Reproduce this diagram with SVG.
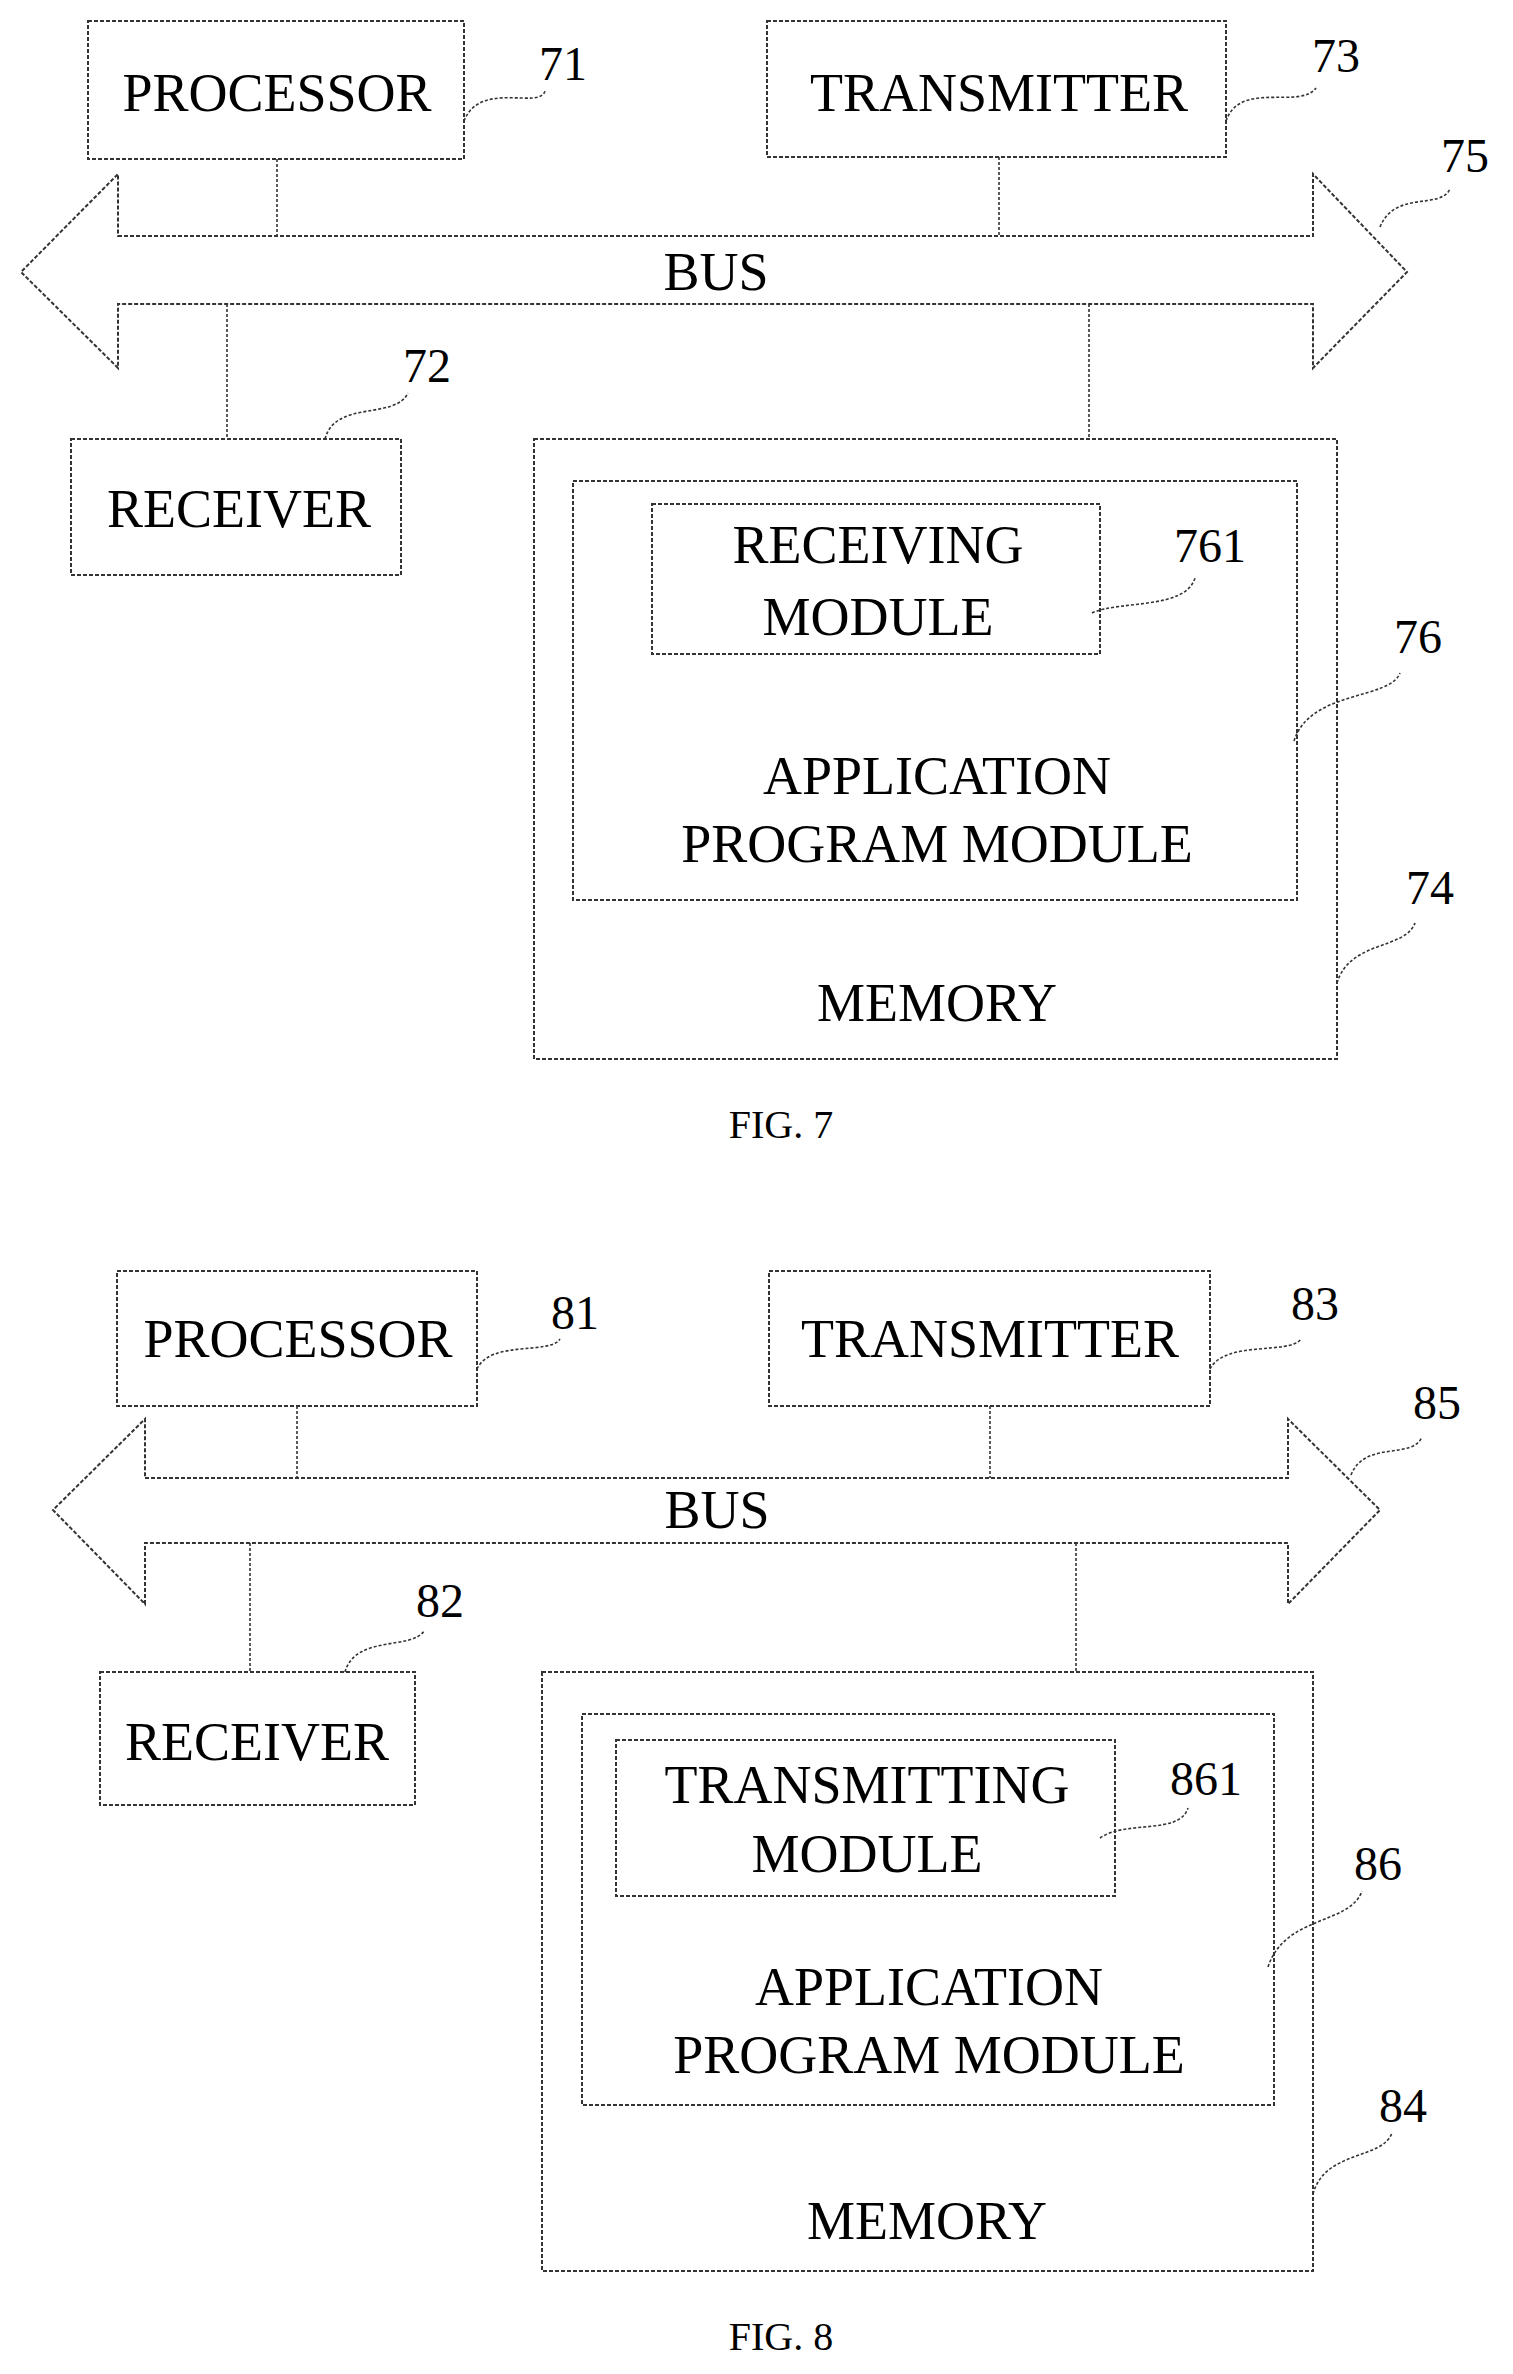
<svg xmlns="http://www.w3.org/2000/svg" width="1513" height="2374" viewBox="0 0 1513 2374">
<style>
.b{fill:none;stroke:#333;stroke-width:2;stroke-dasharray:4,2}
.l{fill:none;stroke:#333;stroke-width:1.6;stroke-dasharray:3,2}
.t{font-family:"Liberation Serif",serif;font-size:54px;fill:#000;text-anchor:middle}
.n{font-family:"Liberation Serif",serif;font-size:48px;fill:#000;text-anchor:middle}
.f{font-family:"Liberation Serif",serif;font-size:40px;fill:#000;text-anchor:middle}
</style>
<rect width="1513" height="2374" fill="#fff"/>
<g id="fig7">
<g id="processor71"><rect class="b" x="88" y="21" width="376" height="138"/><text class="t" x="277" y="111">PROCESSOR</text></g>
<g id="transmitter73"><rect class="b" x="767" y="21" width="459" height="136"/><text class="t" x="999" y="111">TRANSMITTER</text></g>
<g id="bus75"><path class="b" d="M118,236 L1313,236 L1313,174 L1407,272 L1313,368 L1313,304 L118,304 L118,368 L21,272 L118,174 Z"/><text class="t" x="716" y="290">BUS</text></g>
<g id="receiver72"><rect class="b" x="71" y="439" width="330" height="136"/><text class="t" x="239" y="527">RECEIVER</text></g>
<g id="memory74"><rect class="b" x="534" y="439" width="803" height="620"/><text class="t" x="937" y="1021">MEMORY</text></g>
<g id="app76"><rect class="b" x="573" y="481" width="724" height="419"/><text class="t" x="937" y="794">APPLICATION</text><text class="t" x="937" y="862">PROGRAM MODULE</text></g>
<g id="recv761"><rect class="b" x="652" y="504" width="448" height="150"/><text class="t" x="878" y="563">RECEIVING</text><text class="t" x="878" y="635">MODULE</text></g>
<g id="labels7">
<text class="n" x="563" y="80">71</text><text class="n" x="1336" y="72">73</text><text class="n" x="1465" y="172">75</text>
<text class="n" x="427" y="382">72</text><text class="n" x="1430" y="904">74</text><text class="n" x="1418" y="653">76</text><text class="n" x="1210" y="562">761</text>
<text class="f" x="781" y="1138">FIG. 7</text>
</g>
<g id="connectors7">
<path class="l" d="M277,159V236M999,157V236M227,304V439M1089,304V439"/>
<path class="l" d="M464,121C480,80 540,110 545,91M1226,121C1240,80 1300,110 1316,88M1380,227C1395,190 1440,210 1450,189M325,439C335,400 395,420 408,393M1337,983C1350,940 1405,950 1415,923M1294,741C1310,690 1390,700 1400,673M1092,613C1120,600 1185,610 1195,578"/>
</g>
</g>
<g id="fig8">
<g id="processor81"><rect class="b" x="117" y="1271" width="360" height="135"/><text class="t" x="298" y="1357">PROCESSOR</text></g>
<g id="transmitter83"><rect class="b" x="769" y="1271" width="441" height="135"/><text class="t" x="990" y="1357">TRANSMITTER</text></g>
<g id="bus85"><path class="b" d="M145,1478 L1288,1478 L1288,1419 L1380,1510 L1288,1604 L1288,1543 L145,1543 L145,1604 L53,1510 L145,1419 Z"/><text class="t" x="717" y="1528">BUS</text></g>
<g id="receiver82"><rect class="b" x="100" y="1672" width="315" height="133"/><text class="t" x="257" y="1760">RECEIVER</text></g>
<g id="memory84"><rect class="b" x="542" y="1672" width="771" height="599"/><text class="t" x="927" y="2239">MEMORY</text></g>
<g id="app86"><rect class="b" x="582" y="1714" width="692" height="391"/><text class="t" x="929" y="2005">APPLICATION</text><text class="t" x="929" y="2073">PROGRAM MODULE</text></g>
<g id="trans861"><rect class="b" x="616" y="1740" width="499" height="156"/><text class="t" x="867" y="1803">TRANSMITTING</text><text class="t" x="867" y="1872">MODULE</text></g>
<g id="labels8">
<text class="n" x="575" y="1329">81</text><text class="n" x="1315" y="1320">83</text><text class="n" x="1437" y="1419">85</text>
<text class="n" x="440" y="1617">82</text><text class="n" x="1403" y="2122">84</text><text class="n" x="1378" y="1880">86</text><text class="n" x="1206" y="1795">861</text>
<text class="f" x="781" y="2350">FIG. 8</text>
</g>
<g id="connectors8">
<path class="l" d="M297,1406V1478M990,1406V1478M250,1543V1672M1076,1543V1672"/>
<path class="l" d="M477,1369C490,1340 550,1355 560,1339M1210,1369C1225,1340 1290,1355 1301,1339M1351,1475C1365,1440 1412,1460 1422,1437M345,1672C355,1635 412,1650 424,1631M1313,2194C1325,2150 1382,2160 1392,2133M1268,1967C1285,1915 1350,1925 1362,1891M1100,1838C1125,1820 1180,1835 1188,1808"/>
</g>
</g>
</svg>
